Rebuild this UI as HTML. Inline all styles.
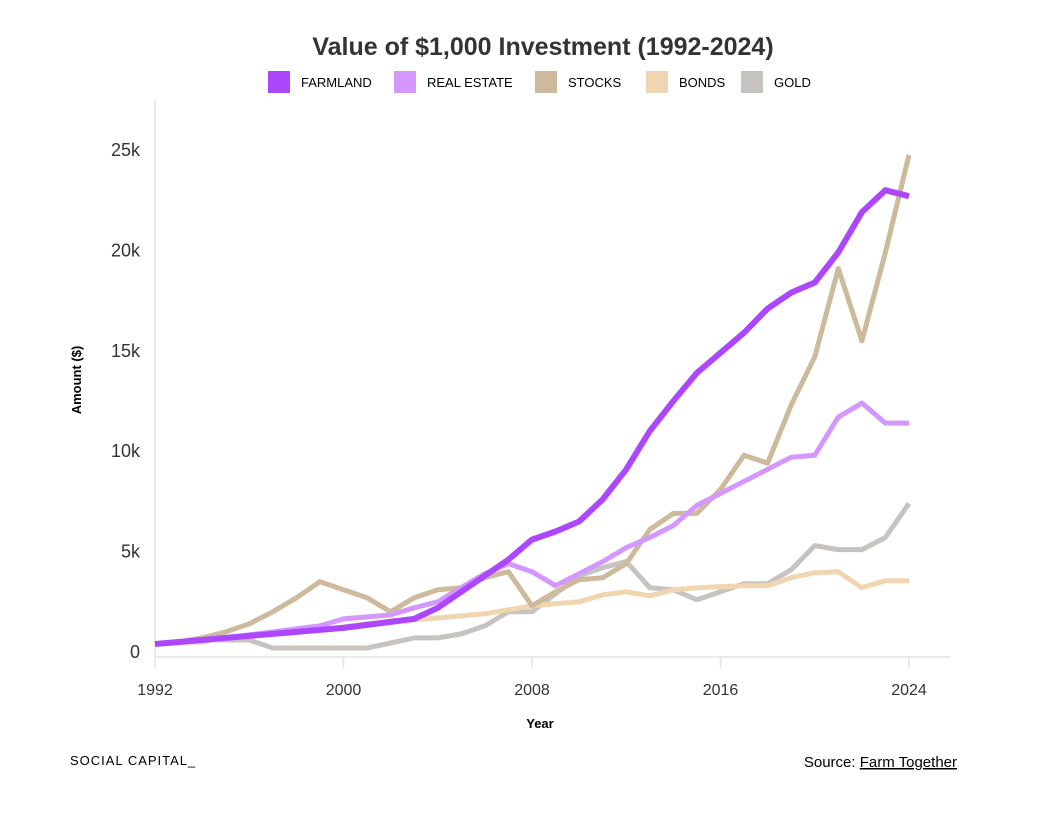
<!DOCTYPE html>
<html><head><meta charset="utf-8"><style>
body{margin:0;background:#fff;font-family:"Liberation Sans",Arial,sans-serif;}
svg text{font-family:"Liberation Sans",Arial,sans-serif;}
</style></head><body>
<svg id="chart" width="1040" height="822">
<text x="543" y="55" text-anchor="middle" font-size="25" font-weight="bold" fill="#333">Value of $1,000 Investment (1992-2024)</text>
<g id="legend"></g>
<line x1="155" y1="100" x2="155" y2="657" stroke="#e6e3e0" stroke-width="1.5"/>
<line x1="155" y1="657" x2="950" y2="657" stroke="#e6e3e0" stroke-width="1.5"/>
<g id="axes"></g>
<g id="lines"></g>
<text transform="translate(81,380) rotate(-90)" text-anchor="middle" font-size="13" font-weight="bold" fill="#000">Amount ($)</text>
<text x="540" y="728" text-anchor="middle" font-size="13" font-weight="bold" fill="#000">Year</text>
<text x="70" y="765" font-size="13" letter-spacing="1" fill="#000">SOCIAL CAPITAL_</text>
<text x="957" y="767" text-anchor="end" font-size="15" fill="#000">Source: <tspan text-decoration="underline">Farm Together</tspan></text>
</svg>
<script>
const years=[];for(let y=1992;y<=2024;y++)years.push(y);
const farmland=[0.4,0.5,0.6,0.7,0.8,0.9,1.0,1.1,1.2,1.35,1.5,1.65,2.2,3.0,3.8,4.6,5.6,6.0,6.5,7.6,9.1,11.0,12.5,13.9,14.9,15.9,17.1,17.9,18.4,19.9,21.9,23.0,22.7];
const realEstate=[0.4,0.5,0.6,0.7,0.85,1.0,1.15,1.3,1.65,1.75,1.85,2.2,2.5,3.2,3.9,4.4,4.0,3.3,3.9,4.5,5.2,5.7,6.3,7.3,7.9,8.5,9.1,9.7,9.8,11.7,12.4,11.4,11.4];
const stocks=[0.4,0.5,0.7,1.0,1.4,2.0,2.7,3.5,3.1,2.7,2.0,2.7,3.1,3.2,3.7,4.0,2.3,3.0,3.6,3.7,4.4,6.1,6.9,6.9,8.1,9.8,9.4,12.3,14.7,19.1,15.5,19.9,24.75];
const bonds=[0.4,0.45,0.5,0.7,0.8,0.9,1.0,1.1,1.25,1.4,1.55,1.6,1.7,1.8,1.9,2.1,2.3,2.4,2.5,2.85,3.0,2.8,3.1,3.2,3.25,3.3,3.3,3.7,3.95,4.0,3.2,3.55,3.55];
const gold=[0.4,0.5,0.6,0.6,0.6,0.2,0.2,0.2,0.2,0.2,0.45,0.7,0.7,0.9,1.3,2.0,2.0,2.9,3.8,4.2,4.5,3.2,3.1,2.6,3.0,3.4,3.4,4.1,5.3,5.1,5.1,5.7,7.4];
const seriesNames=["FARMLAND","REAL ESTATE","STOCKS","BONDS","GOLD"];
const seriesColors=["#ad47ff","#d397ff","#cdb99c","#efd6b0","#c7c3c1"];
const yTicks=[0,5,10,15,20,25];
const yTickLabels=["0","5k","10k","15k","20k","25k"];
const xTicks=[1992,2000,2008,2016,2024];
const NS="http://www.w3.org/2000/svg";
const xs=y=>155+(y-1992)*(754/32);
const ys=v=>652-v*20.08;
function mk(tag,attrs,parent){const e=document.createElementNS(NS,tag);for(const k in attrs)e.setAttribute(k,attrs[k]);parent.appendChild(e);return e;}
const axes=document.getElementById('axes');
yTicks.forEach((t,i)=>{const e=mk('text',{x:140,y:ys(t)+6,'text-anchor':'end','font-size':18,fill:'#333'},axes);e.textContent=yTickLabels[i];

});
xTicks.forEach(t=>{const l=mk('line',{x1:xs(t),y1:657,x2:xs(t),y2:668,stroke:'#e6e3e0','stroke-width':1.5},axes);


const e=mk('text',{x:xs(t),y:695,'text-anchor':'middle','font-size':16,fill:'#333'},axes);e.textContent=t;

});
const data=[farmland,realEstate,stocks,bonds,gold];
const lines=document.getElementById('lines');
[4,3,2,1,0].forEach(i=>{const d=data[i].map((v,j)=>(j?'L':'M')+xs(years[j]).toFixed(1)+','+ys(v).toFixed(1)).join('');
const p=mk('path',{d:d,fill:'none',stroke:seriesColors[i],'stroke-width':i==0?6:5,'stroke-linejoin':'round'},lines);

});
const lg=document.getElementById('legend');
const lx=[268,394,535,646,741];
seriesNames.forEach((n,i)=>{const r=mk('rect',{x:lx[i],y:71,width:22,height:22,fill:seriesColors[i]},lg);


const t=mk('text',{x:lx[i]+33,y:87,'font-size':13,fill:'#000'},lg);t.textContent=n;

});
</script>
</body></html>
